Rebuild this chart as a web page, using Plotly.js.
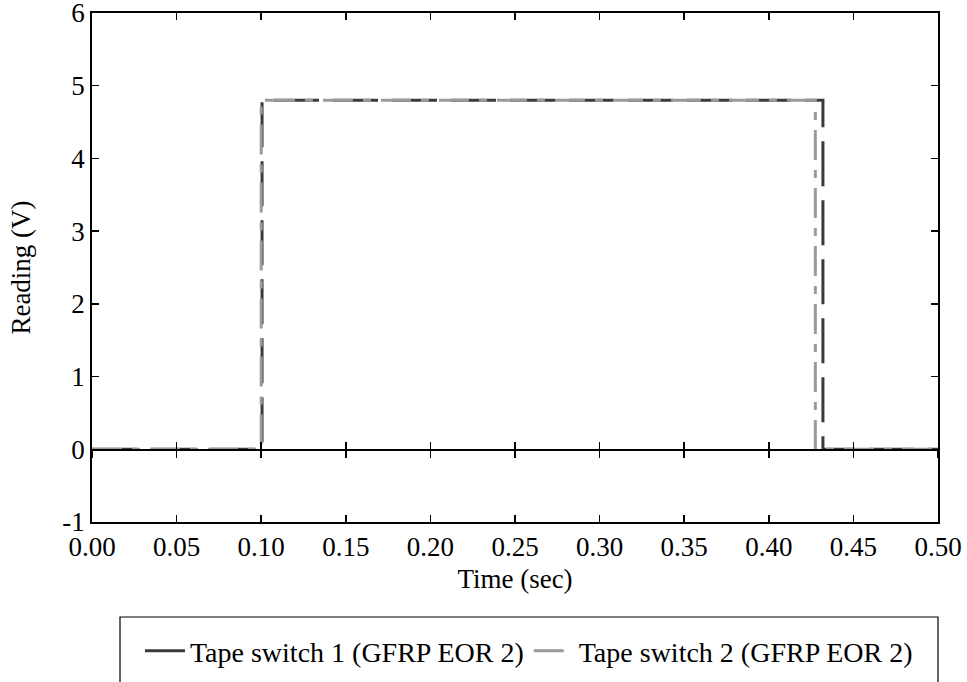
<!DOCTYPE html>
<html>
<head>
<meta charset="utf-8">
<script src="https://cdn.plot.ly/plotly-3.0.1.min.js"></script>
<style>html,body{margin:0;padding:0;background:#fff;}#chart{width:967px;height:682px;}</style>
</head>
<body>
<div id="chart"></div>
<script>
// Data
const seriesNames = ["Tape switch 1 (GFRP EOR 2)", "Tape switch 2 (GFRP EOR 2)"];
const time1 = [0.0, 0.1005, 0.1005, 0.432, 0.432, 0.5];
const volts1 = [0, 0, 4.8, 4.8, 0, 0];
const time2 = [0.0, 0.1, 0.1, 0.4275, 0.4275, 0.5];
const volts2 = [0, 0, 4.8, 4.8, 0, 0];
const yTickVals = [-1, 0, 1, 2, 3, 4, 5, 6];
const yTickText = ["-1", "0", "1", "2", "3", "4", "5", "6"];

const FONT = "Liberation Serif, Times New Roman, serif";
const xRange = [0, 0.5];
const yRange = [-1, 6];
const zeroPos = (0 - yRange[0]) / (yRange[1] - yRange[0]);

const traces = [
  {x: time1, y: volts1, name: seriesNames[0], mode: "lines",
   line: {color: "#3a3a3a", width: 3, dash: "45px,14px"}},
  {x: time2, y: volts2, name: seriesNames[1], mode: "lines",
   line: {color: "#9a9a9a", width: 3, dash: "30px,10px,8px,10px"}}
];

const layout = {
  width: 967, height: 682,
  margin: {l: 92, r: 29, t: 13, b: 160, autoexpand: false},
  paper_bgcolor: "#fff", plot_bgcolor: "#fff",
  font: {family: FONT, size: 27, color: "#000"},
  showlegend: true,
  legend: {orientation: "h", x: 0.5165, xanchor: "center", y: -0.2535, yanchor: "middle",
           borderwidth: 0, font: {family: FONT, size: 28, color: "#000"},
           itemwidth: 40, bgcolor: "rgba(0,0,0,0)"},
  shapes: [{type: "rect", xref: "paper", yref: "paper", x0: 0.0331, x1: 1.0, y0: -0.1866, y1: -0.40,
            line: {color: "#000", width: 1.2}, fillcolor: "rgba(0,0,0,0)", layer: "above"}],
  xaxis: {range: xRange, dtick: 0.05, tick0: 0, tickformat: ".2f",
          showgrid: false, zeroline: false, showline: true, linecolor: "#000", linewidth: 1.8,
          mirror: "ticks", ticks: "inside", ticklen: 7, tickwidth: 1.5, tickcolor: "#000",
          ticklabeloverflow: "allow",
          title: {text: "Time (sec)", font: {family: FONT, size: 27}, standoff: 8},
          tickfont: {family: FONT, size: 27}},
  xaxis2: {range: xRange, dtick: 0.05, tick0: 0, overlaying: "x", anchor: "free", position: zeroPos,
           showgrid: false, zeroline: false, showline: true, linecolor: "#000", linewidth: 1.8,
           ticks: "outside", ticklen: 7, tickwidth: 1.5, tickcolor: "#000", showticklabels: false},
  xaxis3: {range: xRange, dtick: 0.05, tick0: 0, overlaying: "x", anchor: "free", position: zeroPos,
           showgrid: false, zeroline: false, showline: false,
           ticks: "inside", ticklen: 7, tickwidth: 1.5, tickcolor: "#000", showticklabels: false},
  yaxis: {range: yRange, tickvals: yTickVals, ticktext: yTickText,
          showgrid: false, zeroline: false, showline: true, linecolor: "#000", linewidth: 1.8,
          mirror: "ticks", ticks: "inside", ticklen: 7, tickwidth: 1.5, tickcolor: "#000",
          ticksuffix: "\u2009\u2009", ticklabeloverflow: "allow",
          title: {text: "Reading (V)", font: {family: FONT, size: 27}, standoff: 24},
          tickfont: {family: FONT, size: 27}}
};

// invisible helper traces so the overlay axes (crossing ticks on the zero line) are drawn
traces.push({x: [xRange[0]], y: [0], xaxis: "x2", mode: "markers", marker: {opacity: 0}, showlegend: false, hoverinfo: "skip"});
traces.push({x: [xRange[0]], y: [0], xaxis: "x3", mode: "markers", marker: {opacity: 0}, showlegend: false, hoverinfo: "skip"});

Plotly.newPlot("chart", traces, layout, {displayModeBar: false, staticPlot: true});
</script>
</body>
</html>
